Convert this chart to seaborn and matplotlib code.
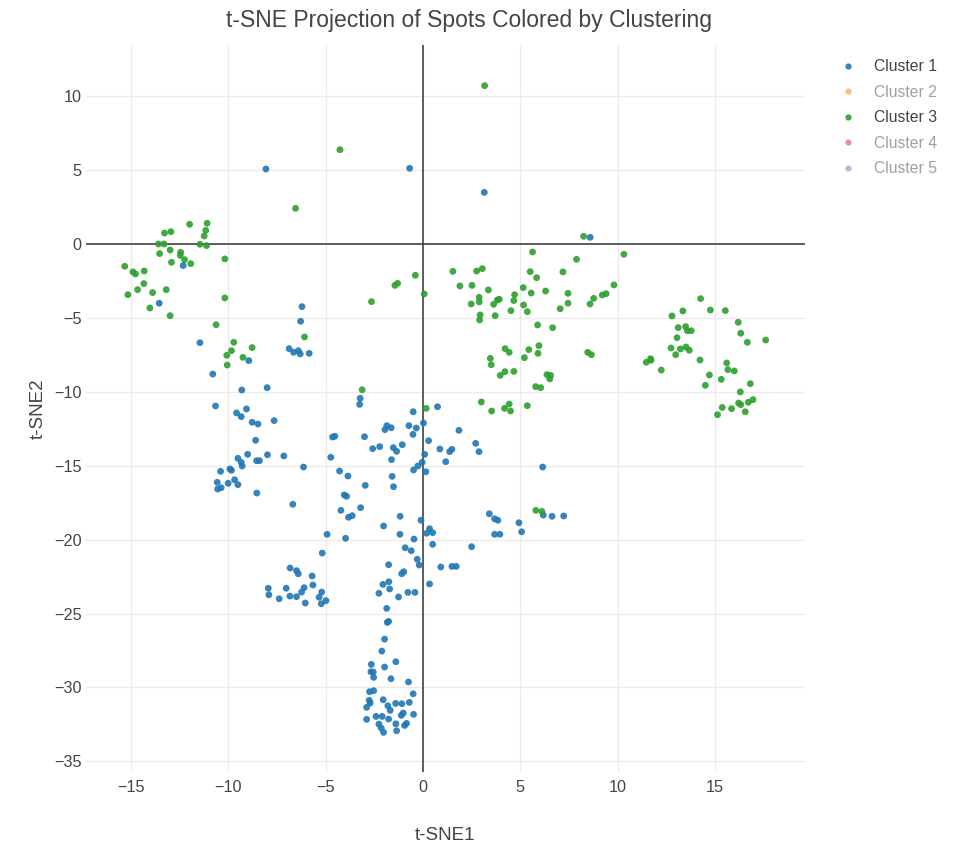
import matplotlib
matplotlib.use("Agg")
import matplotlib.pyplot as plt
import seaborn as sns
import pandas as pd
from matplotlib.lines import Line2D

cluster_names = ["Cluster 1", "Cluster 2", "Cluster 3", "Cluster 4", "Cluster 5"]
cluster_colors = ["#1f77b4", "#ff7f0e", "#2ca02c", "#d62728", "#9467bd"]
visible_clusters = ["Cluster 1", "Cluster 3"]

c1_x = [-8.06, -0.68, 3.15, 8.59, -12.31, -13.54, -6.21, -6.28, -11.45, -8.94, -6.87, -6.64, -6.40, -6.30, -5.84,
        -10.79, -9.30, -8.00, -10.65, -9.57, -9.33, -9.06, -8.77, -8.47, -7.64, -8.59, -9.50, -9.33, -9.28, -9.00,
        -8.54, -8.39, -7.98, -7.14, -6.13, -10.39, -9.91, -9.83, -10.56, -10.54, -10.36, -10.00, -9.67, -9.50, -8.53,
        -6.68, -4.92,
        -5.17, -6.82, -6.49, -6.40, -5.69, -5.65, -6.10, -6.23, -5.20, -5.33, -4.98, -5.22, -6.04, -7.94, -7.91,
        -7.38, -7.02, -6.83, -6.49,
        -3.22, -3.25, -0.50, 0.75, 0.03, -0.72, -0.34, -0.51, -1.85, -1.95, -1.63, 1.85, -4.64, -4.52, -3.00,
        0.29, -2.58, -2.22, -1.52, -1.35, -1.06, 0.87, 1.37, 1.49, 2.71, 2.88, 0.09, -4.73, -1.61, -0.04, -0.26,
        1.17, -0.48, 0.15, 6.15, -4.28, -3.85, -1.58, -1.51, -2.96, -4.04, -3.92, -4.21, -3.20, -3.82, -3.63,
        -2.02, -1.17, -0.10, 3.41, 3.68, 3.85, 4.93, 5.07, 6.18, 6.63, 7.23, -1.18, 0.34, 0.19, 0.50, 3.68, 3.95,
        -3.97, -0.46, 0.50, 2.50, -0.91, -0.60, -0.29, -0.19, -1.76, 0.92, 1.49, 1.71, -1.09, -0.98, 0.34, -1.75,
        -2.05, -1.71, -2.26, -1.25, -0.77, -0.41, -1.86, -1.83, -1.76, -1.97, -2.11, -2.65, -1.39, -2.67, -2.55,
        -1.97, -2.53, -1.64, -0.74, -2.74, -2.53, -0.50, -2.76, -2.71, -2.04, -0.70, -1.40, -1.08, -1.80, -1.68,
        -2.89, -0.48, -1.11, -1.01, -2.89, -2.41, -2.09, -1.76, -2.26, -2.14, -2.02, -1.39, -0.94, -0.84, -1.35]
c1_y = [5.07, 5.12, 3.49, 0.45, -1.46, -4.01, -4.24, -5.23, -6.68, -7.89, -7.08, -7.33, -7.22, -7.44, -7.40,
        -8.80, -9.88, -9.72, -10.96, -11.43, -11.68, -11.16, -12.06, -12.18, -11.95, -13.28, -14.50, -14.77, -15.02, -14.23,
        -14.66, -14.66, -14.26, -14.34, -15.09, -15.38, -15.22, -15.31, -16.12, -16.58, -16.49, -16.19, -15.95, -16.28, -16.85,
        -17.61, -19.64,
        -20.91, -21.92, -22.10, -22.31, -22.46, -23.07, -23.25, -23.55, -23.55, -23.90, -24.13, -24.34, -24.29, -23.29, -23.73,
        -24.00, -23.29, -23.82, -23.86,
        -10.44, -10.85, -11.35, -11.01, -12.11, -12.29, -12.45, -12.88, -12.29, -12.56, -12.43, -12.61, -13.06, -13.01, -13.04,
        -13.31, -13.85, -13.71, -13.78, -14.03, -13.58, -13.87, -14.05, -13.89, -13.49, -14.05, -14.23, -14.43, -14.59, -14.77, -15.02,
        -14.73, -15.29, -15.41, -15.09, -15.36, -15.70, -15.72, -16.42, -16.33, -16.98, -17.07, -18.02, -17.84, -18.49, -18.38,
        -19.08, -18.42, -18.69, -18.25, -18.59, -18.69, -18.86, -19.47, -18.34, -18.42, -18.40, -19.64, -19.26, -19.57, -19.53, -19.64, -19.64,
        -19.91, -19.96, -20.32, -20.48, -20.55, -20.75, -21.33, -21.72, -21.70, -21.85, -21.81, -21.81, -22.31, -22.17, -23.00, -22.85,
        -23.03, -23.34, -23.63, -23.88, -23.57, -23.57, -24.65, -25.60, -25.53, -26.73, -27.54, -28.44, -28.26, -28.94, -28.96,
        -28.62, -29.32, -29.41, -29.63, -30.29, -30.22, -30.43, -30.87, -31.06, -30.83, -31.01, -31.08, -31.10, -31.24, -31.55,
        -31.35, -31.82, -31.89, -31.73, -32.16, -31.96, -31.96, -32.14, -32.48, -32.75, -33.04, -32.46, -32.57, -32.43, -32.93]

c3_x = [-6.54, -11.98, -11.08, -11.15, -11.23, -13.27, -12.94, -13.58, -13.29, -11.45, -11.11, -12.98, -13.52, -12.44,
        -12.46, -12.24, -11.92, -12.91, -10.17, -15.31, -14.89, -14.76, -14.31, -14.33, -14.65, -13.18, -15.15, -13.88,
        -14.02, -12.98, -10.17, -10.62, -6.08, -9.71, -9.83, -10.07, -8.77, -9.24, -10.05,
        3.17, -4.26, 5.63, -0.39, 1.54, 2.76, 3.05, 5.51, 5.84, 7.19, -1.44, -1.30, 1.90, 2.52, 5.15,
        8.25, 7.89, 10.32, 9.81,
        -2.64, 0.07, 2.48, 2.89, 2.89, 3.36, 3.63, 3.82, 3.92, 4.71, 4.67, 4.52, 5.17, 5.36, 5.56, 6.30, 7.05, 7.45,
        2.94, 2.91, 3.71, 5.89, 6.66, 4.22, 4.43, 5.44, 5.96, 5.91, 5.21, 3.46, 3.51, 3.97, 4.21, 4.67, 6.37, 6.56,
        6.51, 5.79, 6.05, -3.12, 0.17, 3.00, 3.53, 4.19, 4.43, 4.50, 5.36, 5.80, 6.11,
        7.45, 8.58, 8.77, 9.21, 9.41, 8.46, 8.65, 14.26, 12.79, 13.35, 14.76, 15.53, 13.11, 13.49, 13.58, 13.78,
        13.05, 16.19, 16.32, 16.66, 17.60, 12.74, 13.22, 13.51, 13.68, 12.98, 14.23, 11.47, 11.69, 11.71, 12.24,
        15.60, 15.66, 15.99, 14.71, 15.32, 14.50, 16.81, 16.30, 16.21, 16.32, 16.71, 16.95, 15.37, 15.85, 15.13, 16.55]
c3_y = [2.41, 1.33, 1.40, 0.92, 0.54, 0.74, 0.83, 0.00, 0.00, -0.02, -0.11, -0.41, -0.65, -0.56,
        -0.77, -1.06, -1.33, -1.24, -1.01, -1.51, -1.89, -2.03, -1.83, -2.68, -3.09, -3.09, -3.43, -3.29,
        -4.33, -4.85, -3.65, -5.46, -6.29, -6.65, -7.22, -7.53, -7.01, -7.67, -8.19,
        10.71, 6.38, -0.54, -2.12, -1.85, -1.83, -1.67, -1.87, -2.28, -1.89, -2.80, -2.66, -2.84, -2.80, -2.95,
        0.52, -1.04, -0.70, -2.77,
        -3.90, -3.38, -4.06, -3.61, -3.92, -3.11, -4.08, -3.79, -3.74, -3.43, -3.83, -4.51, -4.13, -4.58, -3.32, -3.18, -4.38, -4.01,
        -4.80, -5.14, -4.85, -5.48, -5.66, -7.08, -7.33, -7.15, -6.88, -7.40, -7.69, -7.74, -8.17, -8.89, -8.64, -8.62, -8.84, -8.89,
        -9.13, -9.65, -9.72, -9.86, -11.12, -10.69, -11.30, -11.12, -10.83, -11.30, -10.94, -18.02, -18.09,
        -3.34, -4.06, -3.68, -3.45, -3.36, -7.33, -7.49, -3.70, -4.87, -4.53, -4.47, -4.51, -5.66, -5.59, -5.87, -5.87,
        -6.34, -5.30, -6.04, -6.65, -6.50, -7.04, -7.10, -6.97, -7.19, -7.49, -7.85, -8.00, -7.76, -7.87, -8.53,
        -8.05, -8.50, -8.59, -8.86, -9.16, -9.56, -9.45, -10.01, -10.76, -10.87, -10.71, -10.53, -11.06, -11.14, -11.55, -11.35]

x_ticks = [-15, -10, -5, 0, 5, 10, 15]
y_ticks = [-35, -30, -25, -20, -15, -10, -5, 0, 5, 10]

df = pd.DataFrame({
    "t-SNE1": c1_x + c3_x,
    "t-SNE2": c1_y + c3_y,
    "cluster": ["Cluster 1"] * len(c1_x) + ["Cluster 3"] * len(c3_x),
})

sns.set_theme(style="white")
plt.rcParams["font.family"] = ["Liberation Sans", "DejaVu Sans"]

W, H = 961, 851
L, R, T, B = 86, 805, 45, 772
fig = plt.figure(figsize=(W / 100, H / 100), dpi=100)
ax = fig.add_axes([L / W, 1 - B / H, (R - L) / W, (B - T) / H])

palette = dict(zip(cluster_names, cluster_colors))
sns.scatterplot(data=df, x="t-SNE1", y="t-SNE2", hue="cluster", palette=palette,
                s=24, alpha=0.9, linewidth=0, ax=ax, legend=False, zorder=3)

ax.set_xlim(-17.3, 19.62)
ax.set_ylim(-35.72, 13.46)
ax.set_xticks(x_ticks)
ax.set_yticks(y_ticks)
ax.grid(True, color="#ebebeb", linewidth=1.0, zorder=0)
ax.set_axisbelow(True)
ax.axhline(0, color="#444444", linewidth=1.2, zorder=1)
ax.axvline(0, color="#444444", linewidth=1.2, zorder=1)
for sp in ax.spines.values():
    sp.set_visible(False)
ax.tick_params(axis="x", length=0, labelsize=11.7, colors="#444444", pad=6)
ax.tick_params(axis="y", length=0, labelsize=11.7, colors="#444444", pad=3)
ax.set_xlabel("t-SNE1", fontsize=13.5, color="#444444")
ax.set_ylabel("t-SNE2", fontsize=13.5, color="#444444")
ax.xaxis.set_label_coords((445 - L) / (R - L), (B - 836) / (B - T))
ax.xaxis.label.set_va("center")
ax.yaxis.set_label_coords((38 - L) / (R - L), 0.5)
ax.yaxis.label.set_va("center")

fig.text(469 / W, 1 - 20 / H, "t-SNE Projection of Spots Colored by Clustering",
         ha="center", va="center", fontsize=16.5, color="#444444")

handles = []
for name, col in zip(cluster_names, cluster_colors):
    vis = name in visible_clusters
    handles.append(Line2D([0], [0], marker="o", linestyle="", markersize=4.5,
                          markerfacecolor=col, markeredgewidth=0, alpha=0.9 if vis else 0.5))
leg = fig.legend(handles, cluster_names, loc="upper left", bbox_to_anchor=(832 / W, 1 - 59 / H),
                 frameon=False, fontsize=11.3, handletextpad=0.65, handlelength=2.0,
                 labelspacing=0.67, borderaxespad=0, borderpad=0)
for txt, name in zip(leg.get_texts(), cluster_names):
    txt.set_color("#444444" if name in visible_clusters else "#a0a0a0")

fig.savefig("out.png", dpi=100)
